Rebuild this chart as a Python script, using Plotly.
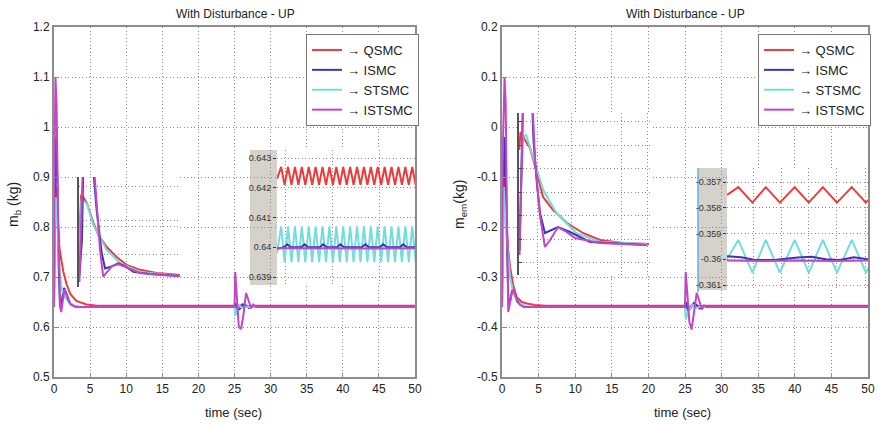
import plotly.graph_objects as go

# ---------------- data ----------------
x_ticks = [0, 5, 10, 15, 20, 25, 30, 35, 40, 45, 50]
mb_ticks = [0.5, 0.6, 0.7, 0.8, 0.9, 1.0, 1.1, 1.2]
mb_tick_text = ["0.5", "0.6", "0.7", "0.8", "0.9", "1", "1.1", "1.2"]
mem_ticks = [-0.5, -0.4, -0.3, -0.2, -0.1, 0.0, 0.1, 0.2]
mem_tick_text = ["-0.5", "-0.4", "-0.3", "-0.2", "-0.1", "0", "0.1", "0.2"]
series_names = ["\u2192 QSMC", "\u2192 ISMC", "\u2192 STSMC", "\u2192 ISTSMC"]

# main left : m_b
qsmc_t_mb = [0, 0.15, 0.3, 0.5, 0.75, 1.0, 1.3, 1.75, 2.3, 3.1, 4.5, 6, 25, 25.15, 25.5, 26.0, 26.6, 27.5, 50]
qsmc_mb = [0.64, 0.86, 0.88, 0.82, 0.758, 0.735, 0.71, 0.685, 0.665, 0.652, 0.645, 0.6425, 0.6425, 0.647, 0.638, 0.645, 0.641, 0.6425, 0.6425]
ismc_t_mb = [0, 0.1, 0.3, 0.45, 0.65, 0.83, 1.1, 1.4, 1.7, 2.2, 2.8, 3.5, 25, 25.1, 25.4, 25.8, 26.2, 26.6, 27.0, 27.5, 50]
ismc_mb = [0.64, 0.85, 0.98, 0.9, 0.72, 0.64, 0.655, 0.678, 0.668, 0.648, 0.642, 0.640, 0.640, 0.648, 0.633, 0.637, 0.645, 0.643, 0.638, 0.640, 0.640]
stsmc_t_mb = [0, 0.1, 0.25, 0.5, 0.8, 1.1, 1.5, 2.0, 2.7, 3.5, 25, 25.1, 25.3, 25.6, 26.0, 26.5, 27.0, 50]
stsmc_mb = [0.64, 0.80, 0.86, 0.79, 0.71, 0.675, 0.66, 0.65, 0.643, 0.640, 0.640, 0.622, 0.630, 0.645, 0.638, 0.641, 0.640, 0.640]
istsmc_t_mb = [0, 0.05, 0.2, 0.35, 0.6, 0.85, 1.0, 1.2, 1.45, 1.8, 2.3, 3.0, 25, 25.1, 25.3, 25.6, 25.9, 26.2, 26.6, 26.9, 27.3, 27.6, 28, 50]
istsmc_mb = [0.64, 0.9, 1.1, 1.05, 0.8, 0.64, 0.63, 0.655, 0.676, 0.66, 0.645, 0.640, 0.640, 0.71, 0.66, 0.60, 0.596, 0.62, 0.668, 0.655, 0.638, 0.645, 0.640, 0.640]

# main right : m_em
qsmc_t_em = [0, 0.15, 0.3, 0.55, 0.85, 1.1, 1.5, 2.0, 2.7, 3.4, 4.5, 6, 25, 25.15, 25.5, 26.0, 26.6, 27.5, 50]
qsmc_em = [-0.36, -0.1, -0.08, -0.18, -0.246, -0.28, -0.315, -0.34, -0.35, -0.353, -0.356, -0.3575, -0.3575, -0.352, -0.362, -0.355, -0.359, -0.3575, -0.3575]
ismc_t_em = [0, 0.15, 0.35, 0.5, 0.7, 0.9, 1.15, 1.4, 1.7, 2.1, 2.8, 3.5, 25, 25.1, 25.4, 25.8, 26.2, 26.6, 27.0, 27.5, 50]
ismc_em = [-0.36, -0.15, -0.02, -0.08, -0.25, -0.355, -0.345, -0.326, -0.335, -0.35, -0.358, -0.36, -0.36, -0.35, -0.368, -0.362, -0.352, -0.356, -0.363, -0.36, -0.36]
stsmc_t_em = [0, 0.1, 0.25, 0.5, 0.8, 1.1, 1.5, 2.0, 2.7, 3.5, 25, 25.1, 25.4, 26.0, 26.5, 27.0, 50]
stsmc_em = [-0.36, -0.2, -0.12, -0.2, -0.26, -0.3, -0.33, -0.345, -0.355, -0.36, -0.36, -0.385, -0.37, -0.355, -0.362, -0.36, -0.36]
istsmc_t_em = [0, 0.1, 0.35, 0.5, 0.7, 0.85, 1.05, 1.3, 1.55, 1.9, 2.4, 3.0, 25, 25.1, 25.3, 25.6, 25.9, 26.2, 26.6, 26.9, 27.3, 27.6, 28, 50]
istsmc_em = [-0.36, -0.05, 0.1, 0.05, -0.2, -0.37, -0.355, -0.335, -0.325, -0.34, -0.355, -0.36, -0.36, -0.29, -0.33, -0.39, -0.405, -0.37, -0.332, -0.345, -0.365, -0.357, -0.36, -0.36]

# left inset A (transient zoom, m_b)
qsmc_tA_mb = [0.82, 0.90, 0.99, 1.17, 1.48, 1.72, 2.12, 2.59, 3.07, 3.70, 4.49, 5.6]
qsmc_A_mb = [0.6493, 0.6621, 0.6618, 0.6601, 0.6543, 0.6508, 0.6473, 0.6444, 0.6421, 0.6407, 0.6398, 0.6392]
ismc_tA_mb = [0.82, 0.94, 1.01, 1.44, 1.64, 1.88, 2.04, 2.27, 2.67, 2.99, 3.38, 4.17, 5.6]
ismc_A_mb = [0.6392, 0.6493, 0.6725, 0.6725, 0.6580, 0.6455, 0.6411, 0.6415, 0.6426, 0.6418, 0.6401, 0.6395, 0.6389]
stsmc_tA_mb = [0.81, 0.91, 1.17, 1.48, 2.12, 2.75, 3.70, 5.28, 5.6]
stsmc_A_mb = [0.6436, 0.6611, 0.6600, 0.6537, 0.6464, 0.6426, 0.6401, 0.6392, 0.6389]
istsmc_tA_mb = [0.82, 0.99, 1.49, 1.66, 1.80, 1.95, 2.13, 2.37, 2.67, 2.99, 3.70, 4.65, 5.6]
istsmc_A_mb = [0.6372, 0.6725, 0.6725, 0.6566, 0.6464, 0.6387, 0.6401, 0.6418, 0.6423, 0.6416, 0.6398, 0.6392, 0.6389]

# left inset B (steady-state zoom, m_b)
inB_ticks_mb = [0.639, 0.640, 0.641, 0.642, 0.643]
inB_tick_text_mb = ["0.639", "0.64", "0.641", "0.642", "0.643"]
zz_t_mb = [30.0, 30.6, 31.1, 31.6, 32.1, 32.6, 33.1, 33.6, 34.1, 34.6, 35.1, 35.6, 36.1, 36.6, 37.1, 37.6, 38.1, 38.6, 39.1, 39.6, 40.1,
           40.6, 41.1, 41.6, 42.1, 42.6, 43.1, 43.6, 44.1, 44.6, 45.1, 45.6, 46.1, 46.6, 47.1, 47.6, 48.1, 48.6, 49.1, 49.6, 50.1]
qsmc_B_mb = [0.6423, 0.6427, 0.6421, 0.6427, 0.6421, 0.6427, 0.6421, 0.6427, 0.6421, 0.6427, 0.6421, 0.6427, 0.6421, 0.6427, 0.6421,
             0.6427, 0.6421, 0.6427, 0.6421, 0.6427, 0.6421, 0.6427, 0.6421, 0.6427, 0.6421, 0.6427, 0.6421, 0.6427, 0.6421, 0.6427,
             0.6421, 0.6427, 0.6421, 0.6427, 0.6421, 0.6427, 0.6421, 0.6427, 0.6421, 0.6427, 0.6421]
stsmc_B_mb = [0.6398, 0.6407, 0.6395, 0.6407, 0.6395, 0.6407, 0.6395, 0.6407, 0.6395, 0.6407, 0.6395, 0.6407, 0.6395, 0.6407, 0.6395,
              0.6407, 0.6395, 0.6407, 0.6395, 0.6407, 0.6395, 0.6407, 0.6395, 0.6407, 0.6395, 0.6407, 0.6395, 0.6407, 0.6395, 0.6407,
              0.6395, 0.6407, 0.6395, 0.6407, 0.6395, 0.6407, 0.6395, 0.6407, 0.6395, 0.6407, 0.6395]
ismc_tB_mb = [30, 31.0, 31.5, 32.0, 33.5, 34.0, 34.5, 36.2, 36.7, 37.2, 38.7, 39.2, 39.7, 42.3, 42.8, 43.3, 44.9, 45.4, 45.9, 47.8, 48.3, 48.8, 50]
ismc_B_mb = [0.63995, 0.6400, 0.6401, 0.6400, 0.6400, 0.6401, 0.6400, 0.6400, 0.6401, 0.6400, 0.6400, 0.6401, 0.6400, 0.6400, 0.6401,
             0.6400, 0.6400, 0.6401, 0.6400, 0.6400, 0.6401, 0.6400, 0.6400]
istsmc_tB_mb = [30, 35, 40, 45, 50]
istsmc_B_mb = [0.63997, 0.63996, 0.63997, 0.63996, 0.63997]

# right inset A (transient zoom, m_em)
qsmc_tA_em = [0.81, 0.855, 1.02, 1.20, 1.46, 1.68, 2.05, 2.56, 3.14, 3.77, 4.61, 5.56]
qsmc_A_em = [-0.34106, -0.33723, -0.33894, -0.34064, -0.34596, -0.35106, -0.35383, -0.35660, -0.35872, -0.36021, -0.36085, -0.36106]
ismc_tA_em = [0.82, 0.87, 0.95, 1.28, 1.33, 1.46, 1.57, 1.75, 1.97, 2.23, 2.49, 2.67, 3.40, 5.49]
ismc_A_em = [-0.36234, -0.35170, -0.33043, -0.33043, -0.33894, -0.34851, -0.35447, -0.35872, -0.35809, -0.35745, -0.35809, -0.35851, -0.36064, -0.36128]
stsmc_tA_em = [0.86, 0.96, 1.06, 1.45, 1.69, 2.18, 2.91, 3.77, 5.48]
stsmc_A_em = [-0.35170, -0.33823, -0.33787, -0.34532, -0.34957, -0.35453, -0.35879, -0.36057, -0.36106]
istsmc_tA_em = [0.82, 0.95, 1.29, 1.39, 1.57, 1.75, 1.94, 2.23, 2.49, 2.85, 3.77, 5.49]
istsmc_A_em = [-0.36340, -0.33043, -0.33043, -0.34319, -0.35511, -0.36170, -0.36021, -0.35745, -0.35830, -0.35979, -0.36085, -0.36128]

# right inset B (steady-state zoom, m_em)
inB_ticks_em = [-0.361, -0.360, -0.359, -0.358, -0.357]
inB_tick_text_em = ["-0.361", "-0.36", "-0.359", "-0.358", "-0.357"]
zz_t_em = [30.0, 31.6, 33.6, 35.5, 37.5, 39.6, 41.6, 43.6, 45.6, 47.7, 49.7, 50.5]
qsmc_B_em = [-0.3575, -0.3572, -0.3578, -0.3572, -0.3578, -0.3572, -0.3578, -0.3572, -0.3578, -0.3572, -0.3578, -0.3576]
stsmc_B_em = [-0.3600, -0.35925, -0.36052, -0.35925, -0.36052, -0.35925, -0.36052, -0.35925, -0.36052, -0.35925, -0.36052, -0.3601]
ismc_tB_em = [30, 32, 34, 37, 40, 42, 44, 46, 48, 50]
ismc_B_em = [-0.35988, -0.35992, -0.36003, -0.36002, -0.35993, -0.35990, -0.36000, -0.36003, -0.35992, -0.36000]
istsmc_tB_em = [30, 35, 40, 45, 50]
istsmc_B_em = [-0.36005, -0.36007, -0.36005, -0.36007, -0.36005]

# ---------------- style / layout helpers ----------------
W, H = 878, 426
COLORS = ["#ee3a3a", "#3838b4", "#74dcdc", "#c446c4"]
FONT = "Liberation Sans, Arial, sans-serif"
GRID = "#8a8a8a"
DOTS = "1px,2.5px"


def dx(a, b):
    return [a / W, b / W]


def dy(top, bottom):
    return [1 - bottom / H, 1 - top / H]


fig = go.Figure()

main_sets = [
    ("x", "y", "legend", [(qsmc_t_mb, qsmc_mb), (ismc_t_mb, ismc_mb), (stsmc_t_mb, stsmc_mb), (istsmc_t_mb, istsmc_mb)]),
    ("x2", "y2", "legend2", [(qsmc_t_em, qsmc_em), (ismc_t_em, ismc_em), (stsmc_t_em, stsmc_em), (istsmc_t_em, istsmc_em)]),
]
for xa, ya, lg, sets in main_sets:
    for i, (t, v) in enumerate(sets):
        fig.add_trace(go.Scatter(x=t, y=v, mode="lines", name=series_names[i], xaxis=xa, yaxis=ya,
                                 legend=lg, line=dict(color=COLORS[i], width=2)))

inset_sets = [
    ("x3", "y3", [(qsmc_tA_mb, qsmc_A_mb), (ismc_tA_mb, ismc_A_mb), (stsmc_tA_mb, stsmc_A_mb), (istsmc_tA_mb, istsmc_A_mb)]),
    ("x4", "y4", [(zz_t_mb, qsmc_B_mb), (ismc_tB_mb, ismc_B_mb), (zz_t_mb, stsmc_B_mb), (istsmc_tB_mb, istsmc_B_mb)]),
    ("x5", "y5", [(qsmc_tA_em, qsmc_A_em), (ismc_tA_em, ismc_A_em), (stsmc_tA_em, stsmc_A_em), (istsmc_tA_em, istsmc_A_em)]),
    ("x6", "y6", [(zz_t_em, qsmc_B_em), (ismc_tB_em, ismc_B_em), (zz_t_em, stsmc_B_em), (istsmc_tB_em, istsmc_B_em)]),
]
draw_order = [0, 2, 1, 3]
for xa, ya, sets in inset_sets:
    for i in draw_order:
        t, v = sets[i]
        fig.add_trace(go.Scatter(x=t, y=v, mode="lines", showlegend=False, xaxis=xa, yaxis=ya,
                                 line=dict(color=COLORS[i], width=2)))

tickfont = dict(family=FONT, size=12, color="#222")
main_x = dict(range=[0, 50], tickvals=x_ticks, showgrid=True, gridcolor=GRID, griddash=DOTS, gridwidth=1,
              showline=True, mirror=True, linecolor="#8c8c8c", linewidth=2, ticks="inside", ticklen=4,
              tickcolor="#8c8c8c", tickfont=tickfont, zeroline=False, automargin=False)
main_y = dict(showgrid=True, gridcolor=GRID, griddash=DOTS, gridwidth=1, showline=True, mirror=True,
              linecolor="#8c8c8c", linewidth=2, ticks="inside", ticklen=4, tickcolor="#8c8c8c",
              tickfont=tickfont, zeroline=False, automargin=False)

inset_common = dict(zeroline=False, automargin=False, showgrid=True, gridcolor=GRID, griddash=DOTS, gridwidth=1)
small_font = dict(family=FONT, size=9, color="#333")

legend_style = dict(xanchor="left", yanchor="top", bgcolor="white", bordercolor="#777", borderwidth=1,
                    font=dict(family=FONT, size=13, color="#222"), itemwidth=30, tracegroupgap=0)

layout = dict(
    width=W, height=H, margin=dict(l=0, r=0, t=0, b=0),
    paper_bgcolor="white", plot_bgcolor="#ffffff",
    xaxis=dict(domain=dx(54, 415), anchor="y", **main_x),
    yaxis=dict(domain=dy(27, 377), anchor="x", range=[0.5, 1.2], tickvals=mb_ticks, ticktext=mb_tick_text, **main_y),
    xaxis2=dict(domain=dx(502, 868), anchor="y2", **main_x),
    yaxis2=dict(domain=dy(27, 377), anchor="x2", range=[-0.5, 0.2], tickvals=mem_ticks, ticktext=mem_tick_text, **main_y),
    # left inset A
    xaxis3=dict(domain=dx(79, 180), anchor="y3", range=[0.8, 5.6], tickvals=[1.33, 3.04, 4.76],
                showticklabels=False, ticks="", **inset_common),
    yaxis3=dict(domain=dy(177, 287), anchor="x3", range=[0.63572, 0.66761],
                tickvals=[0.63862, 0.645, 0.65312, 0.655, 0.665], showticklabels=False, ticks="",
                showline=True, linecolor="#555", linewidth=1.5, **inset_common),
    # left inset B
    xaxis4=dict(domain=dx(277, 415), anchor="y4", range=[30, 50], tickvals=[31.2, 38.1, 44.9],
                showticklabels=False, ticks="", **inset_common),
    yaxis4=dict(domain=dy(150, 285), anchor="x4", range=[0.638731, 0.643269], tickvals=inB_ticks_mb,
                ticktext=inB_tick_text_mb, ticks="outside", ticklen=3, tickcolor="#333", tickfont=small_font,
                **inset_common),
    # right inset A
    xaxis5=dict(domain=dx(519, 650), anchor="y5", range=[0.8, 5.6], tickvals=[1.46, 2.74, 4.57, 5.49],
                showticklabels=False, ticks="", **inset_common),
    yaxis5=dict(domain=dy(113, 275), anchor="x5", range=[-0.36766, -0.33319],
                tickvals=[-0.365, -0.36, -0.355, -0.35, -0.345, -0.34, -0.335], showticklabels=False,
                ticks="inside", ticklen=3, tickcolor="#444", showline=True, linecolor="#555", linewidth=1.5,
                **inset_common),
    # right inset B
    xaxis6=dict(domain=dx(727, 868), anchor="y6", range=[30, 50], tickvals=[33.7, 37.7, 41.6, 45.6, 49.6],
                showticklabels=False, ticks="", **inset_common),
    yaxis6=dict(domain=dy(168, 290), anchor="x6", range=[-0.361194, -0.356456], tickvals=inB_ticks_em,
                ticktext=inB_tick_text_em, ticks="outside", ticklen=3, tickcolor="#333", tickfont=small_font,
                **inset_common),
    legend=dict(x=306 / W, y=1 - 34 / H, **legend_style),
    legend2=dict(x=758 / W, y=1 - 34 / H, **legend_style),
    showlegend=True,
)
fig.update_layout(**layout)

# gray tick-label panels of the steady-state insets
fig.add_shape(type="rect", xref="x4 domain", yref="y4 domain", x0=-27 / 138, x1=0, y0=0, y1=1,
              fillcolor="#d5d2cb", line=dict(width=0), layer="below")
fig.add_shape(type="rect", xref="x6 domain", yref="y6 domain", x0=-29 / 141, x1=0, y0=0, y1=1,
              fillcolor="#d5d2cb", line=dict(width=0), layer="below")
fig.add_shape(type="line", xref="x6 domain", yref="y6 domain", x0=-29 / 141, x1=-29 / 141, y0=-0.02, y1=1,
              line=dict(color="#6aaee0", width=1.5), layer="below")

title_font = dict(family=FONT, size=12, color="#222")
for cx in (235, 685):
    fig.add_annotation(text="With Disturbance - UP", x=cx / W, y=1 - 14 / H, xref="paper", yref="paper",
                       showarrow=False, font=title_font, xanchor="center", yanchor="middle")
for cx in (233, 682):
    fig.add_annotation(text="time (sec)", x=cx / W, y=1 - 412 / H, xref="paper", yref="paper",
                       showarrow=False, font=dict(family=FONT, size=13, color="#222"),
                       xanchor="center", yanchor="middle")
fig.add_annotation(text="m<sub>b</sub> (kg)", x=14 / W, y=1 - 205 / H, xref="paper", yref="paper",
                   showarrow=False, textangle=-90, font=dict(family=FONT, size=14, color="#222"),
                   xanchor="center", yanchor="middle")
fig.add_annotation(text="m<sub>em</sub>(kg)", x=460 / W, y=1 - 205 / H, xref="paper", yref="paper",
                   showarrow=False, textangle=-90, font=dict(family=FONT, size=14, color="#222"),
                   xanchor="center", yanchor="middle")

fig.write_html("out.html")
